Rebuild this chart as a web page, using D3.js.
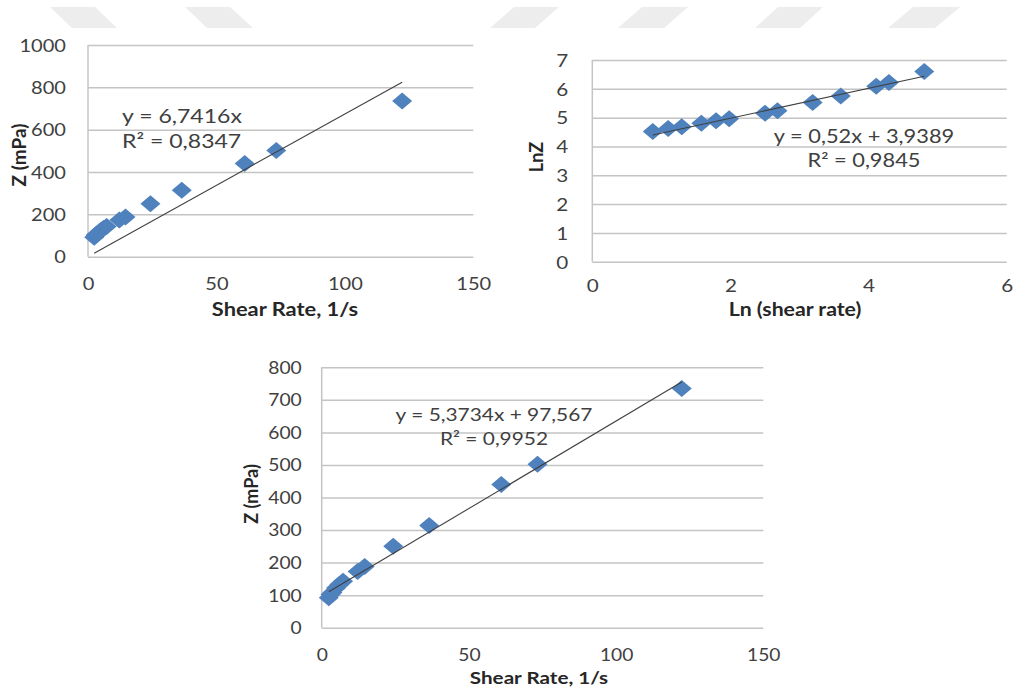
<!DOCTYPE html>
<html>
<head>
<meta charset="utf-8">
<script src="https://cdn.jsdelivr.net/npm/d3@7"></script>
<style>
  html, body { margin: 0; padding: 0; background: #ffffff; }
  svg { display: block; }
  text { font-family: Lato, "Open Sans", "Liberation Sans", sans-serif; }
</style>
</head>
<body>
<svg id="fig" width="1013" height="692"></svg>
<script>
// Measurements: shear rate (1/s) and viscosity Z (mPa)
const shearRate = [2.4, 3.0, 3.65, 4.85, 6.0, 7.25, 12.2, 14.6, 24.3, 36.5, 61, 73.3, 122.3];
const viscosity = [92, 102, 108, 122, 133, 143, 173, 188, 250, 314, 440, 502, 735];

// Axis ticks
const ticksZ1000 = [0, 200, 400, 600, 800, 1000];
const ticksZ800 = [0, 100, 200, 300, 400, 500, 600, 700, 800];
const ticksLnZ = [0, 1, 2, 3, 4, 5, 6, 7];
const ticksShear = [0, 50, 100, 150];
const ticksLnShear = [0, 2, 4, 6];

// Linear trend lines: [slope, intercept] and their labels
const fitThroughOrigin = [6.7416, 0];
const fitLogLog = [0.52, 3.9389];
const fitLinear = [5.3734, 97.567];
const labelsThroughOrigin = ["y = 6,7416x", "R² = 0,8347"];
const labelsLogLog = ["y = 0,52x + 3,9389", "R² = 0,9845"];
const labelsLinear = ["y = 5,3734x + 97,567", "R² = 0,9952"];

const svg = d3.select("#fig");
const STRETCH = 1.18;
const MARK = "#4f81bd";

// widen glyphs horizontally (the figure's text is set wide)
function stretch(sel) {
  sel.each(function () {
    const w = this.getComputedTextLength();
    this.setAttribute("textLength", w * STRETCH);
    this.setAttribute("lengthAdjust", "spacingAndGlyphs");
  });
}

// faint banner shapes across the top of the page
const banner = [
  [[50, 95], [72, 117]],
  [[185, 230], [207, 253]],
  [[514, 559], [490, 535]],
  [[642, 688], [618, 664]],
  [[778, 823], [755, 800]],
  [[913, 960], [888, 935]]
];
svg.append("g").selectAll("path").data(banner).join("path")
  .attr("d", d => `M${d[0][0]},7 L${d[0][1]},7 L${d[1][1]},28 L${d[1][0]},28 Z`)
  .attr("fill", "#ededed");

function scatterPanel(o) {
  const g = svg.append("g");
  const x = d3.scaleLinear().domain(o.xDomain).range([o.left, o.right]);
  const y = d3.scaleLinear().domain(o.yDomain).range([o.bottom, o.top]);

  // horizontal gridlines and y tick labels
  const yAxis = g.append("g").attr("transform", `translate(${o.left},0)`)
    .call(d3.axisLeft(y).tickValues(o.yTicks).tickSize(-(o.right - o.left)).tickPadding(o.yPad).tickFormat(d3.format("d")));
  yAxis.select(".domain").remove();
  yAxis.selectAll(".tick line").attr("stroke", "#c4c4c4").attr("stroke-width", 1.5);
  yAxis.selectAll(".tick text").attr("fill", "#404040").attr("font-size", o.tickSize).attr("dy", "0.36em");

  // vertical axis line
  g.append("line").attr("x1", o.left).attr("x2", o.left).attr("y1", o.top).attr("y2", o.bottom)
    .attr("stroke", "#c4c4c4").attr("stroke-width", 1.5);

  // x tick labels
  const xAxis = g.append("g").attr("transform", `translate(0,${o.bottom})`)
    .call(d3.axisBottom(x).tickValues(o.xTicks).tickSize(0).tickFormat(d3.format("d")));
  xAxis.select(".domain").remove();
  xAxis.selectAll(".tick text").attr("fill", "#404040").attr("font-size", o.tickSize)
    .attr("y", o.xLabelY - o.bottom).attr("dy", "0.36em");

  stretch(yAxis.selectAll(".tick text"));
  stretch(xAxis.selectAll(".tick text"));

  // points
  const xs = o.xs, ys = o.ys;
  const pts = xs.map((v, i) => [v, ys[i]]);
  g.append("g").selectAll("path").data(pts).join("path")
    .attr("d", d => {
      const cx = x(d[0]), cy = y(d[1]);
      return `M${cx},${cy - 8.5} L${cx + 10},${cy} L${cx},${cy + 8.5} L${cx - 10},${cy} Z`;
    })
    .attr("fill", MARK);

  // trend line across the data range
  const x0 = d3.min(xs), x1 = d3.max(xs);
  const f = v => o.fit[0] * v + o.fit[1];
  g.append("line")
    .attr("x1", x(x0)).attr("y1", y(f(x0)))
    .attr("x2", x(x1)).attr("y2", y(f(x1)))
    .attr("stroke", "#404040").attr("stroke-width", 1.1);

  // trend equation
  const eq = g.append("g").selectAll("text").data(o.labels).join("text")
    .attr("x", o.eqX).attr("y", (d, i) => o.eqY[i])
    .attr("text-anchor", o.eqAnchor)
    .attr("font-size", o.eqSize).attr("fill", "#404040")
    .text(d => d);
  stretch(eq);

  // axis titles
  const xt = g.append("text").attr("x", o.xTitle[0]).attr("y", o.xTitle[1]).attr("dy", "0.36em")
    .attr("text-anchor", "middle").attr("font-weight", "bold").attr("font-size", o.titleSize)
    .attr("fill", "#262626").text(o.xLabel);
  stretch(xt);
  g.append("text").attr("transform", `translate(${o.yTitle[0]},${o.yTitle[1]}) rotate(-90)`)
    .attr("dy", "0.36em").attr("text-anchor", "middle").attr("font-weight", "bold")
    .attr("font-size", o.yTitleSize).attr("fill", "#262626").text(o.yLabel);
}

// Z vs shear rate, fit through the origin
scatterPanel({
  left: 88, right: 473.3, top: 45, bottom: 256.7,
  xDomain: [0, 150], yDomain: [0, 1000], xTicks: ticksShear, yTicks: ticksZ1000,
  xs: shearRate, ys: viscosity, fit: fitThroughOrigin, labels: labelsThroughOrigin,
  yPad: 22, xLabelY: 284, tickSize: 17,
  eqX: 122, eqY: [123, 148], eqAnchor: "start", eqSize: 19.5,
  xTitle: [285, 309], yTitle: [19, 155], titleSize: 18.5, yTitleSize: 19,
  xLabel: "Shear Rate, 1/s", yLabel: "Z (mPa)"
});

// Ln Z vs Ln shear rate
scatterPanel({
  left: 592.3, right: 1006.7, top: 60, bottom: 261.7,
  xDomain: [0, 6], yDomain: [0, 7], xTicks: ticksLnShear, yTicks: ticksLnZ,
  xs: shearRate.map(Math.log), ys: viscosity.map(Math.log), fit: fitLogLog, labels: labelsLogLog,
  yPad: 24, xLabelY: 286, tickSize: 17.5,
  eqX: 864, eqY: [143, 167], eqAnchor: "middle", eqSize: 18.5,
  xTitle: [795, 310], yTitle: [537, 157], titleSize: 18, yTitleSize: 18,
  xLabel: "Ln (shear rate)", yLabel: "LnZ"
});

// Z vs shear rate, linear fit with intercept
scatterPanel({
  left: 321.7, right: 763.3, top: 367.3, bottom: 627.7,
  xDomain: [0, 150], yDomain: [0, 800], xTicks: ticksShear, yTicks: ticksZ800,
  xs: shearRate, ys: viscosity, fit: fitLinear, labels: labelsLinear,
  yPad: 20, xLabelY: 655, tickSize: 16.3,
  eqX: 494, eqY: [421, 445], eqAnchor: "middle", eqSize: 17.7,
  xTitle: [539, 678], yTitle: [252, 494], titleSize: 17.5, yTitleSize: 18,
  xLabel: "Shear Rate, 1/s", yLabel: "Z (mPa)"
});
</script>
</body>
</html>
